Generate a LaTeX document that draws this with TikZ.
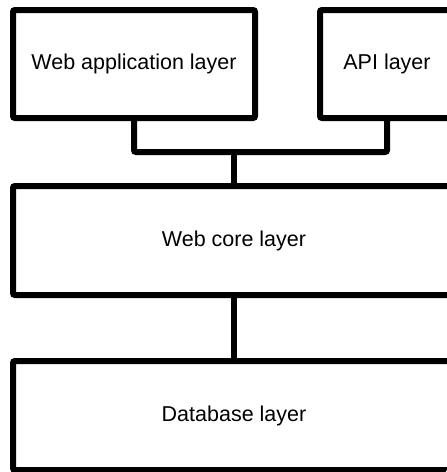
\documentclass[tikz,border=0pt]{standalone}
\usepackage{fontspec}
\setmainfont{Liberation Sans}

\begin{document}
\begin{tikzpicture}[x=1pt,y=-1pt,line width=6pt,rounded corners=2pt,
layerbox/.style={draw,rectangle,minimum height=108pt,font=\fontsize{21.5}{26}\selectfont}]
\clip (0,0) rectangle (447,472);
\node[layerbox,minimum width=242pt] (webapp) at (134,64) {Web application layer};
\node[layerbox,minimum width=134pt] (api) at (387,64) {API layer};
\node[layerbox,minimum width=442pt,minimum height=109pt] (core) at (234,240.5) {Web core layer};
\node[layerbox,minimum width=442pt,minimum height=109pt] (db) at (234,415.5) {Database layer};
%%% connectors
\coordinate (bus) at (234,152);
\draw (webapp.south) |- (bus) -| (api.south);
\draw (bus) -- (core.north);
\draw (core.south) -- (db.north);
\end{tikzpicture}
\end{document}
